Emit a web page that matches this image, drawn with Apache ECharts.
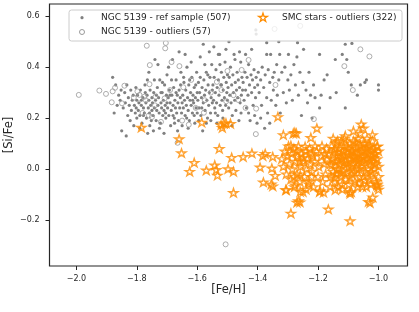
<!DOCTYPE html>
<html>
<head>
<meta charset="utf-8">
<script src="https://cdn.jsdelivr.net/npm/echarts@6/dist/echarts.min.js"></script>
<style>html,body{margin:0;padding:0;background:#fff}#c{width:419px;height:312px}</style>
</head>
<body>
<div id="c"></div>
<script>
// ---- data ----
var seriesNames = ['NGC 5139 - ref sample (507)', 'NGC 5139 - outliers (57)', 'SMC stars - outliers (322)'];
var xTicks = [-2.0, -1.8, -1.6, -1.4, -1.2, -1.0];
var yTicks = [-0.2, 0.0, 0.2, 0.4, 0.6];
var xLabel = '[Fe/H]';
var yLabel = '[Si/Fe]';

var ngcRef = [
[-1.88,0.36],[-1.875,0.22],[-1.87,0.33],[-1.865,0.25],[-1.86,0.29],[-1.855,0.27],[-1.85,0.15],[-1.852,0.31],
[-1.845,0.24],[-1.84,0.30],[-1.838,0.26],[-1.835,0.13],[-1.833,0.33],[-1.83,0.21],[-1.828,0.28],[-1.825,0.25],[-1.822,0.19],[-1.82,0.31],[-1.818,0.23],[-1.815,0.27],[-1.812,0.29],[-1.81,0.17],[-1.808,0.25],[-1.805,0.22],[-1.803,0.32],[-1.80,0.27],[-1.80,0.20],[-1.802,0.24],
[-1.798,0.29],[-1.795,0.23],[-1.793,0.26],[-1.79,0.21],[-1.788,0.31],[-1.785,0.25],[-1.783,0.18],[-1.78,0.28],[-1.778,0.24],[-1.775,0.22],[-1.773,0.33],[-1.77,0.26],[-1.768,0.20],[-1.766,0.29],[-1.764,0.14],[-1.762,0.24],[-1.76,0.27],[-1.758,0.22],[-1.756,0.31],[-1.754,0.25],[-1.752,0.19],[-1.75,0.28],[-1.75,0.23],[-1.772,0.30],[-1.785,0.27],[-1.79,0.16],[-1.765,0.35],[-1.757,0.17],[-1.778,0.21],[-1.76,0.38],
[-1.748,0.26],[-1.746,0.21],[-1.744,0.30],[-1.742,0.24],[-1.74,0.43],[-1.738,0.27],[-1.736,0.19],[-1.734,0.23],[-1.732,0.32],[-1.73,0.25],[-1.728,0.28],[-1.726,0.22],[-1.724,0.35],[-1.722,0.18],[-1.72,0.26],[-1.718,0.24],[-1.716,0.30],[-1.714,0.21],[-1.712,0.27],[-1.71,0.23],[-1.708,0.33],[-1.706,0.25],[-1.704,0.20],[-1.702,0.29],[-1.70,0.26],[-1.70,0.37],[-1.745,0.15],[-1.735,0.29],[-1.725,0.16],[-1.715,0.34],[-1.705,0.22],[-1.742,0.35],[-1.72,0.30],[-1.71,0.14],[-1.73,0.41],
[-1.698,0.24],[-1.696,0.28],[-1.694,0.21],[-1.692,0.31],[-1.69,0.26],[-1.688,0.17],[-1.686,0.23],[-1.684,0.29],[-1.682,0.43],[-1.68,0.25],[-1.678,0.32],[-1.676,0.20],[-1.674,0.27],[-1.672,0.24],[-1.67,0.35],[-1.668,0.22],[-1.666,0.29],[-1.664,0.26],[-1.662,0.19],[-1.66,0.31],[-1.658,0.24],[-1.656,0.28],[-1.654,0.38],[-1.652,0.22],[-1.65,0.26],[-1.695,0.40],[-1.685,0.35],[-1.675,0.18],[-1.665,0.15],[-1.655,0.33],[-1.69,0.29],[-1.68,0.21],[-1.67,0.30],[-1.66,0.46],[-1.65,0.17],
[-1.648,0.29],[-1.646,0.24],[-1.644,0.34],[-1.642,0.27],[-1.64,0.21],[-1.638,0.31],[-1.636,0.25],[-1.634,0.40],[-1.632,0.28],[-1.63,0.23],[-1.628,0.33],[-1.626,0.19],[-1.624,0.27],[-1.622,0.30],[-1.62,0.25],[-1.618,0.36],[-1.616,0.22],[-1.614,0.29],[-1.612,0.26],[-1.61,0.32],[-1.608,0.18],[-1.606,0.28],[-1.604,0.24],[-1.602,0.38],[-1.60,0.30],[-1.64,0.45],[-1.63,0.16],[-1.62,0.42],[-1.61,0.21],[-1.645,0.36],[-1.625,0.35],[-1.615,0.27],[-1.605,0.33],[-1.635,0.20],[-1.60,0.22],
[-1.598,0.27],[-1.596,0.34],[-1.594,0.24],[-1.592,0.30],[-1.59,0.36],[-1.588,0.21],[-1.586,0.28],[-1.584,0.32],[-1.582,0.15],[-1.58,0.26],[-1.578,0.35],[-1.576,0.29],[-1.574,0.23],[-1.572,0.31],[-1.57,0.38],[-1.568,0.27],[-1.566,0.20],[-1.564,0.33],[-1.562,0.25],[-1.56,0.30],[-1.558,0.36],[-1.556,0.22],[-1.554,0.28],[-1.552,0.41],[-1.55,0.31],[-1.59,0.44],[-1.58,0.49],[-1.57,0.18],[-1.56,0.46],[-1.555,0.19],[-1.595,0.19],[-1.575,0.41],[-1.565,0.37],[-1.585,0.24],[-1.55,0.26],
[-1.548,0.33],[-1.546,0.27],[-1.544,0.36],[-1.542,0.24],[-1.54,0.30],[-1.538,0.39],[-1.536,0.26],[-1.534,0.32],[-1.532,0.21],[-1.53,0.35],[-1.528,0.29],[-1.526,0.45],[-1.524,0.25],[-1.522,0.33],[-1.52,0.38],[-1.518,0.27],[-1.516,0.23],[-1.514,0.31],[-1.512,0.36],[-1.51,0.28],[-1.508,0.42],[-1.506,0.25],[-1.504,0.34],[-1.502,0.30],[-1.50,0.37],[-1.545,0.48],[-1.535,0.18],[-1.525,0.41],[-1.515,0.20],[-1.505,0.47],[-1.54,0.22],[-1.53,0.45],[-1.52,0.33],[-1.51,0.17],[-1.50,0.27],
[-1.498,0.32],[-1.496,0.24],[-1.494,0.36],[-1.492,0.29],[-1.49,0.40],[-1.488,0.26],[-1.486,0.33],[-1.484,0.21],[-1.482,0.37],[-1.48,0.30],[-1.478,0.45],[-1.476,0.27],[-1.474,0.34],[-1.472,0.23],[-1.47,0.31],[-1.468,0.38],[-1.466,0.28],[-1.464,0.35],[-1.462,0.19],[-1.46,0.32],[-1.458,0.26],[-1.456,0.42],[-1.454,0.29],[-1.452,0.36],[-1.45,0.31],[-1.495,0.50],[-1.485,0.17],[-1.475,0.43],[-1.46,0.46],[-1.455,0.22],
[-1.448,0.34],[-1.445,0.27],[-1.442,0.38],[-1.44,0.31],[-1.437,0.24],[-1.435,0.36],[-1.432,0.29],[-1.43,0.41],[-1.427,0.33],[-1.425,0.19],[-1.422,0.37],[-1.42,0.30],[-1.417,0.35],[-1.415,0.25],[-1.412,0.39],[-1.41,0.32],[-1.407,0.28],[-1.405,0.36],[-1.402,0.18],[-1.40,0.33],[-1.44,0.45],[-1.43,0.22],[-1.42,0.47],[-1.41,0.21],[-1.405,0.53],[-1.406,0.546],
[-1.398,0.38],[-1.395,0.30],[-1.39,0.35],[-1.387,0.25],[-1.385,0.40],[-1.38,0.32],[-1.377,0.16],[-1.375,0.37],[-1.37,0.28],[-1.367,0.22],[-1.365,0.39],[-1.36,0.34],[-1.357,0.45],[-1.355,0.27],[-1.35,0.36],[-1.39,0.20],[-1.37,0.45],[-1.36,0.18],[-1.37,0.496],
[-1.348,0.31],[-1.345,0.38],[-1.34,0.25],[-1.337,0.41],[-1.335,0.29],[-1.33,0.35],[-1.327,0.45],[-1.325,0.22],[-1.32,0.38],[-1.315,0.30],[-1.31,0.40],[-1.305,0.26],[-1.30,0.35],[-1.33,0.50],
[-1.298,0.45],[-1.295,0.31],[-1.29,0.37],[-1.285,0.27],[-1.28,0.41],[-1.275,0.33],[-1.27,0.44],[-1.265,0.29],[-1.26,0.38],[-1.255,0.21],[-1.25,0.34],[-1.268,0.496],
[-1.248,0.47],[-1.24,0.31],[-1.235,0.26],[-1.23,0.38],[-1.225,0.29],[-1.22,0.20],[-1.215,0.33],[-1.21,0.28],[-1.195,0.45],[-1.195,0.24],[-1.19,0.29],[-1.18,0.35],[-1.17,0.37],[-1.16,0.28],
[-1.14,0.30],[-1.143,0.43],[-1.12,0.45],[-1.11,0.24],[-1.11,0.49],[-1.105,0.43],[-1.10,0.38],[-1.09,0.33],[-1.088,0.493],[-1.07,0.29],[-1.06,0.33],[-1.045,0.34],[-1.04,0.35],[-1.0,0.33],[-1.0,0.31]
];

var ngcOut = [
[-1.992,0.291],[-1.924,0.308],[-1.902,0.295],[-1.88,0.305],[-1.883,0.262],[-1.872,0.319],[-1.841,0.327],[-1.849,0.258],[-1.798,0.305],[-1.791,0.291],
[-1.775,0.284],[-1.781,0.22],[-1.767,0.484],[-1.757,0.408],[-1.758,0.333],[-1.75,0.204],[-1.76,0.21],[-1.738,0.284],[-1.708,0.277],[-1.704,0.495],
[-1.706,0.474],[-1.685,0.42],[-1.72,0.185],[-1.659,0.404],[-1.646,0.321],[-1.628,0.174],[-1.665,0.103],[-1.578,0.221],[-1.535,0.342],[-1.50,0.385],
[-1.504,0.266],[-1.464,0.271],[-1.453,0.389],[-1.43,0.428],[-1.405,0.237],[-1.406,0.137],[-1.341,0.33],[-1.344,0.55],[-1.259,0.562],[-1.214,0.196],
[-1.113,0.404],[-1.085,0.31],[-1.06,0.47],[-1.03,0.442],[-1.506,-0.296],[-1.81,0.28],[-1.74,0.25],[-1.69,0.31],[-1.62,0.35],[-1.555,0.30],
[-1.52,0.31],[-1.48,0.29],[-1.44,0.24],[-1.605,0.24],[-1.575,0.27],[-1.77,0.27],[-1.65,0.19]
];

var smcStars = [
[-1.785,0.163],[-1.66,0.118],[-1.652,0.063],[-1.625,-0.01],[-1.61,0.025],[-1.585,0.183],[-1.57,-0.005],[-1.542,0.015],[-1.537,-0.003],[-1.533,-0.025],
[-1.527,0.08],[-1.521,0.173],[-1.517,0.162],[-1.512,0.18],[-1.505,0.18],[-1.49,0.178],[-1.486,0.045],[-1.498,0.0],[-1.48,-0.01],[-1.48,-0.093],
[-1.448,0.048],[-1.419,0.062],[-1.392,0.007],[-1.383,0.052],[-1.375,0.06],[-1.381,-0.052],[-1.353,0.003],[-1.35,0.048],[-1.35,-0.067],[-1.355,-0.06],
[-1.342,-0.026],[-1.333,0.205],[-1.315,0.134],[-1.305,-0.082],[-1.282,0.14],[-1.277,0.143],[-1.272,0.14],[-1.29,-0.174],[-1.27,-0.131],[-1.265,-0.125],
[-1.26,-0.13],[-1.204,0.16],[-1.224,0.123],
[-1.32,0.04],[-1.315,0.01],[-1.31,0.07],[-1.305,-0.02],[-1.30,0.05],[-1.298,0.09],[-1.295,0.02],[-1.29,-0.04],[-1.288,0.06],[-1.285,0.00],
[-1.28,0.08],[-1.278,-0.07],[-1.275,0.03],[-1.27,-0.02],[-1.268,0.05],[-1.265,0.09],[-1.26,-0.05],[-1.258,0.01],[-1.255,0.06],[-1.25,-0.09],
[-1.248,0.03],[-1.245,-0.03],[-1.24,0.07],[-1.238,0.00],[-1.235,0.04],[-1.23,-0.06],[-1.228,0.08],[-1.225,0.02],[-1.22,-0.01],[-1.218,0.05],
[-1.215,-0.07],[-1.21,0.03],[-1.205,0.07],[-1.20,-0.03],[-1.198,0.01],[-1.195,-0.09],[-1.19,0.05],[-1.187,0.09],[-1.185,-0.05],[-1.18,0.02],
[-1.178,0.06],[-1.175,-0.02],[-1.17,0.04],[-1.172,0.08],[-1.29,0.092],[-1.243,0.088],[-1.259,-0.024],[-1.221,-0.030],[-1.193,-0.086],[-1.232,-0.050],
[-1.259,-0.089],[-1.276,-0.063],[-1.307,-0.082],[-1.25,0.045],[-1.27,0.07],[-1.21,0.09],[-1.26,0.03],[-1.24,-0.08],[-1.28,-0.03],[-1.22,0.06],
[-1.165,0.06],[-1.16,0.02],[-1.158,-0.03],[-1.155,0.09],[-1.152,0.04],[-1.15,-0.01],[-1.148,0.07],[-1.145,-0.05],[-1.142,0.03],[-1.14,0.10],
[-1.138,0.00],[-1.135,0.05],[-1.133,-0.07],[-1.13,0.08],[-1.128,0.02],[-1.125,-0.03],[-1.123,0.11],[-1.12,0.04],[-1.118,0.07],[-1.115,-0.01],
[-1.113,0.12],[-1.11,0.03],[-1.108,-0.04],[-1.105,0.09],[-1.103,0.06],[-1.10,0.01],[-1.098,-0.06],[-1.095,0.10],[-1.093,0.04],[-1.09,0.07],
[-1.088,-0.02],[-1.085,0.02],[-1.083,0.11],[-1.08,0.05],[-1.078,-0.05],[-1.075,0.08],[-1.073,0.00],[-1.07,0.03],[-1.068,0.12],[-1.065,0.06],
[-1.063,-0.03],[-1.06,0.09],[-1.058,0.01],[-1.055,0.05],[-1.053,-0.07],[-1.05,0.10],[-1.048,0.03],[-1.045,0.07],[-1.043,-0.01],[-1.04,0.04],
[-1.038,0.12],[-1.035,0.00],[-1.033,0.06],[-1.03,-0.04],[-1.028,0.09],[-1.025,0.02],[-1.023,0.05],[-1.02,-0.02],[-1.018,0.08],[-1.015,0.03],
[-1.013,0.00],[-1.01,0.06],[-1.008,-0.05],[-1.005,0.04],[-1.003,0.09],[-1.0,0.01],[-1.0,-0.03],[-1.0,0.07],[-1.002,-0.07],[-1.005,-0.06],
[-1.15,0.12],[-1.14,-0.02],[-1.13,0.00],[-1.12,-0.06],[-1.11,0.13],[-1.10,0.08],[-1.09,0.01],[-1.08,-0.01],[-1.07,0.09],[-1.06,0.04],
[-1.05,-0.03],[-1.04,0.08],[-1.03,0.03],[-1.02,0.11],[-1.01,0.02],[-1.145,0.08],[-1.125,0.05],[-1.105,0.02],[-1.085,0.07],[-1.065,0.00],
[-1.045,0.10],[-1.025,-0.01],[-1.135,0.11],[-1.115,0.09],[-1.095,-0.03],[-1.075,0.04],[-1.055,0.07],[-1.035,0.04],[-1.015,0.06],[-1.16,-0.07],
[-1.12,-0.08],[-1.09,-0.09],[-1.07,-0.07],[-1.04,-0.07],[-1.025,-0.06],
[-1.057,0.176],[-1.05,0.16],[-1.06,0.14],[-1.083,0.149],[-1.02,0.134],[-1.005,0.088],[-1.094,-0.096],[-1.033,-0.128],[-1.028,-0.133],[-1.019,-0.111],
[-1.166,-0.158],[-1.094,-0.204],[-1.005,-0.063],[-1.182,-0.092],[-1.143,-0.082],[-1.0,-0.08],[-1.095,-0.09],
[-1.155,0.015],[-1.135,0.035],[-1.115,0.025],[-1.095,0.055],[-1.075,0.065],[-1.055,0.025],[-1.035,0.085],[-1.015,0.045],[-1.145,-0.035],[-1.125,-0.015],
[-1.105,-0.015],[-1.085,0.045],[-1.065,0.035],[-1.045,0.055],[-1.025,0.075],[-1.135,0.065],[-1.115,0.055],[-1.075,0.105],[-1.045,-0.045],[-1.065,-0.055]
];

// ---- chart ----
var FONT = 'DejaVu Sans';
var INK = '#262626';
var STAR = 'path://M50,0L61.2,34.5L97.6,34.5L68.2,55.9L79.4,90.5L50,69.1L20.6,90.5L31.8,55.9L2.4,34.5L38.8,34.5Z';
function fmt(v){ var s = Math.abs(v).toFixed(1); return v < -1e-9 ? '\u2212' + s : s; }
var legendFont = '9px "DejaVu Sans"';

var chart = echarts.init(document.getElementById('c'), null, {renderer: 'canvas'});
chart.setOption({
  animation: false,
  backgroundColor: '#fff',
  grid: {left: 49.5, right: 11.5, top: 4, bottom: 46, containLabel: false, outerBoundsMode: 'none',
         show: true, borderColor: INK, borderWidth: 1.2, backgroundColor: 'transparent'},
  graphic: [
    {type: 'rect', z: 10, shape: {x: 69, y: 10, width: 333, height: 31, r: 2.5},
     style: {fill: 'rgba(255,255,255,0.8)', stroke: '#cccccc', lineWidth: 1}},
    {type: 'circle', z: 11, shape: {cx: 82, cy: 17.7, r: 1.6}, style: {fill: '#808080'}},
    {type: 'circle', z: 11, shape: {cx: 82, cy: 32, r: 2.5}, style: {fill: 'none', stroke: '#9a9a9a', lineWidth: 1}},
    {type: 'polygon', z: 11,
     shape: {points: [[263,13.1],[264.03,16.28],[267.37,16.28],[264.67,18.24],[265.7,21.42],[263,19.46],[260.3,21.42],[261.33,18.24],[258.63,16.28],[261.97,16.28]]},
     style: {fill: 'none', stroke: '#ff8c00', lineWidth: 1.3}},
    {type: 'text', z: 11, x: 101, y: 17.7, style: {text: seriesNames[0], font: legendFont, fill: INK, verticalAlign: 'middle', align: 'left'}},
    {type: 'text', z: 11, x: 101, y: 32, style: {text: seriesNames[1], font: legendFont, fill: INK, verticalAlign: 'middle', align: 'left'}},
    {type: 'text', z: 11, x: 282, y: 17.7, style: {text: seriesNames[2], font: legendFont, fill: INK, verticalAlign: 'middle', align: 'left'}}
  ],
  xAxis: {
    type: 'value', min: -2.089, max: -0.904,
    name: xLabel, nameLocation: 'middle', nameGap: 18, nameMoveOverlap: false,
    nameTextStyle: {fontFamily: FONT, fontSize: 11.5, color: INK},
    splitLine: {show: false}, axisLine: {show: false, onZero: false},
    axisTick: {show: true, inside: false, length: 4, customValues: xTicks, lineStyle: {color: INK, width: 1}},
    axisLabel: {customValues: xTicks, formatter: fmt, fontFamily: FONT, fontSize: 8, color: INK, margin: 9}
  },
  yAxis: {
    type: 'value', min: -0.381, max: 0.648,
    name: yLabel, nameLocation: 'middle', nameGap: 34, nameRotate: 90, nameMoveOverlap: false,
    nameTextStyle: {fontFamily: FONT, fontSize: 11.5, color: INK},
    splitLine: {show: false}, axisLine: {show: false, onZero: false},
    axisTick: {show: true, inside: false, length: 4, customValues: yTicks, lineStyle: {color: INK, width: 1}},
    axisLabel: {customValues: yTicks, formatter: fmt, fontFamily: FONT, fontSize: 8, color: INK, margin: 10}
  },
  series: [
    {name: seriesNames[0], type: 'scatter', data: ngcRef, symbol: 'circle', symbolSize: 3.2,
     itemStyle: {color: '#808080', opacity: 1}, z: 2, emphasis: {disabled: true}},
    {name: seriesNames[1], type: 'scatter', data: ngcOut, symbol: 'circle', symbolSize: 5,
     itemStyle: {color: 'rgba(255,255,255,0)', borderColor: '#9a9a9a', borderWidth: 1}, z: 2, emphasis: {disabled: true}},
    {name: seriesNames[2], type: 'scatter', data: smcStars, symbol: STAR, symbolSize: [9, 8.6], symbolKeepAspect: true,
     itemStyle: {color: 'rgba(255,255,255,0)', borderColor: '#ff8c00', borderWidth: 1.4}, z: 2, emphasis: {disabled: true}}
  ]
});
</script>
</body>
</html>
